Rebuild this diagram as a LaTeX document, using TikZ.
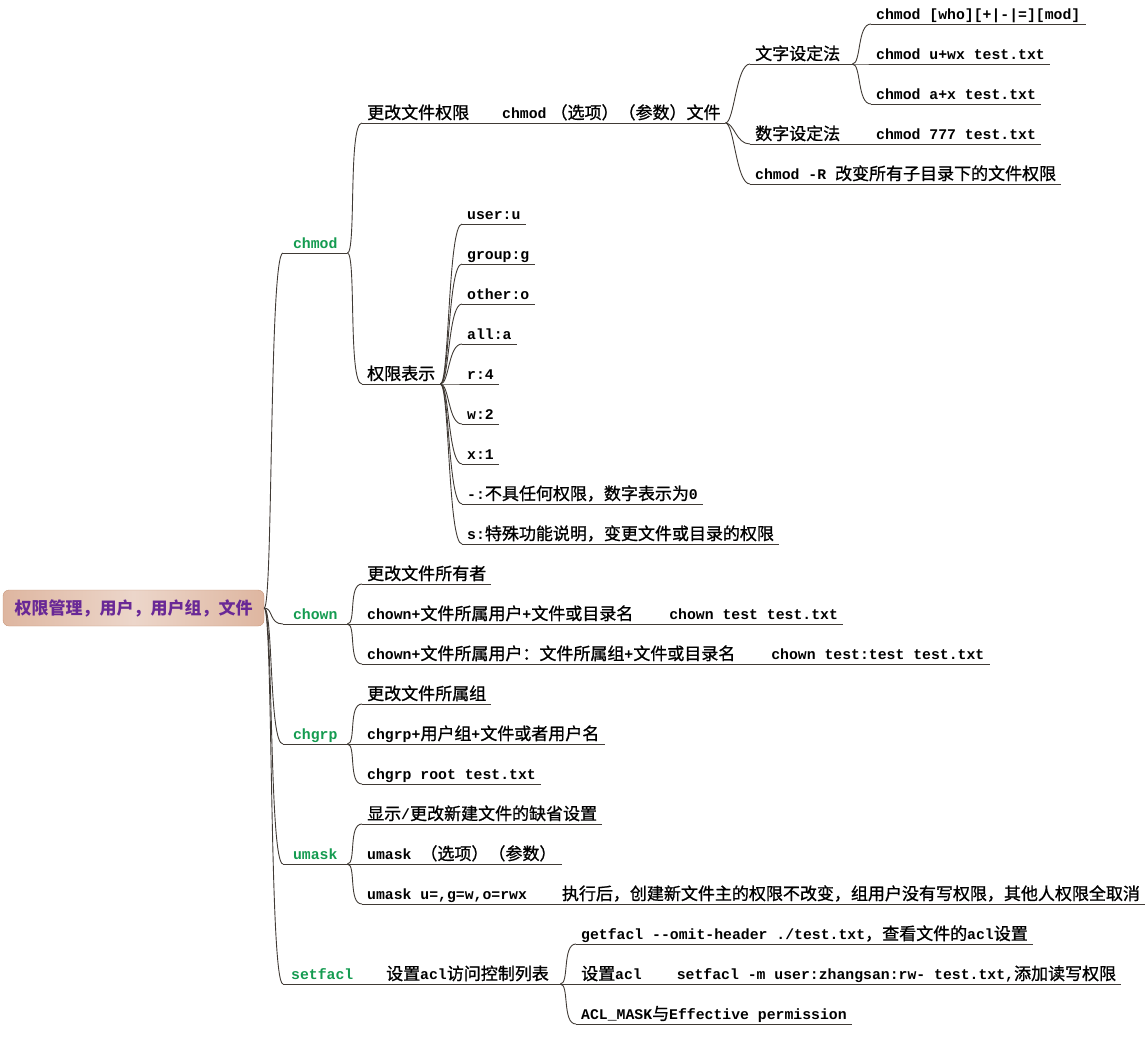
\documentclass[tikz,border=0pt]{standalone}
\usepackage{fontspec}
\setmainfont{Liberation Mono}[UprightFont=* Bold, BoldFont=* Bold, Scale=0.87, Ligatures=TeXOff]
\newfontfamily\cjkfam{Noto Sans CJK SC}[UprightFeatures={FakeBold=1}]
\usetikzlibrary{calc, positioning}

% --- CJK / Latin font switching ---
\newXeTeXintercharclass\cjkclass
\newcount\cjkcode
\def\setcjkrange#1#2{\cjkcode=#1
  \loop\XeTeXcharclass\cjkcode=\cjkclass
  \ifnum\cjkcode<#2 \advance\cjkcode by 1 \repeat}
\setcjkrange{"3000}{"303F}
\setcjkrange{"4E00}{"9FFF}
\setcjkrange{"FF00}{"FFEF}
\XeTeXinterchartoks 0 \cjkclass = {\cjkfam}
\XeTeXinterchartoks 4095 \cjkclass = {\cjkfam}
\XeTeXinterchartoks \cjkclass 0 = {\rmfamily}
\XeTeXinterchartoks \cjkclass 4095 = {\rmfamily}
\XeTeXinterchartokenstate=1

\definecolor{linec}{RGB}{64,58,53}
\definecolor{tagink}{RGB}{20,155,80}
\definecolor{rootink}{RGB}{105,40,150}
\definecolor{rootline}{RGB}{200,150,122}
\definecolor{rootside}{RGB}{222,182,160}
\definecolor{rootmid}{RGB}{236,214,202}

\def\mapfont{\fontsize{17pt}{20pt}\selectfont}

\tikzset{
  rootbox/.style={draw=rootline, rounded corners=6pt, left color=rootside, right color=rootside,
    middle color=rootmid, minimum width=261pt, minimum height=36pt, text=rootink, font=\mapfont\bfseries},
  cmd/.style={anchor=south west, inner xsep=5pt, inner ysep=1pt, text height=13pt, text depth=3pt, align=left},
  cmdtag/.style={cmd, text=tagink, font=\mapfont\bfseries, minimum width=64pt},
  uline/.style={draw=linec, line width=0.9pt},
  branch/.style={uline, to path={.. controls ([xshift=9pt]\tikztostart) and ([xshift=-14pt]\tikztotarget) .. (\tikztotarget) \tikztonodes}},
}

\begin{document}
\begin{tikzpicture}[x=1pt, y=-1pt, font=\mapfont]

\useasboundingbox (0,0) rectangle (1146,1037);

% --- 1. ROOT ---
\node[rootbox] (root) at (133.5,608) {权限管理，用户，用户组，文件};

% --- 2. COMMANDS ---
\node[cmdtag] (chmod) at (283,253) {chmod};
\node[cmdtag] (chown) at (283,624) {chown};
\node[cmdtag] (chgrp) at (283,744) {chgrp};
\node[cmdtag] (umask) at (283,864) {umask};
\node[cmdtag, minimum width=78pt] (setfacl) at (283,984) {setfacl};

\foreach \c in {chmod, chown, chgrp, umask, setfacl}
    \draw[branch] (root.east) to (\c.south west);

% --- 3. CHMOD ---
\node[cmd, text width=353pt] (chmodset) at (362,123) {\mbox{更改文件权限\hspace{33pt}chmod\hspace{4pt}（选项）（参数）文件}};
\node[cmd, text width=68pt] (chmodbits) at (362,384) {权限表示};

% letters / numbers
\node[cmd, text width=92pt] (bytext) at (750,64) {文字设定法};
\node[cmd, text width=92pt] (bynum) at (750,144) {数字设定法};
\node[cmd] (recur) at (750,184) {chmod -R 改变所有子目录下的文件权限};

\node[cmd] (syntax) at (871,24) {chmod [who][+|-|=][mod]};
\node[cmd] (uwx) at (871,64) {chmod u+wx test.txt};
\node[cmd] (ax) at (871,104) {chmod a+x test.txt};
\node[cmd] (n777) at (871,144) {chmod 777 test.txt};

\foreach \c in {chmodset, chmodbits}
    \draw[branch] (chmod.south east) to (\c.south west);
\foreach \c in {bytext, bynum, recur}
    \draw[branch] (chmodset.south east) to (\c.south west);
\foreach \c in {syntax, uwx, ax}
    \draw[branch] (bytext.south east) to (\c.south west);
\draw[uline] (bynum.south east) -- (n777.south west);

% permission bits
\foreach \name/\txt [count=\i] in {pu/user:u, pg/group:g, po/other:o, pa/all:a, pr/r:4, pw/w:2, px/x:1,
    pz/{-:不具任何权限，数字表示为0}, ps/{s:特殊功能说明，变更文件或目录的权限}} {
    \node[cmd] (\name) at (462,184+40*\i) {\txt};
    \draw[branch] (chmodbits.south east) to (\name.south west);
    \draw[uline] (\name.south west) -- (\name.south east);
}

% --- 4. CHOWN ---
\node[cmd] (owner) at (362,584) {更改文件所有者};
\node[cmd] (ownuser) at (362,624) {chown+文件所属用户+文件或目录名\hspace{36pt}chown test test.txt};
\node[cmd] (owngroup) at (362,664) {chown+文件所属用户：文件所属组+文件或目录名\hspace{36pt}chown test:test test.txt};

\foreach \c in {owner, ownuser, owngroup}
    \draw[branch] (chown.south east) to (\c.south west);

% --- 5. CHGRP ---
\node[cmd] (grpdesc) at (362,704) {更改文件所属组};
\node[cmd] (grpsyntax) at (362,744) {chgrp+用户组+文件或者用户名};
\node[cmd] (grpeg) at (362,784) {chgrp root test.txt};

\foreach \c in {grpdesc, grpsyntax, grpeg}
    \draw[branch] (chgrp.south east) to (\c.south west);

% --- 6. UMASK ---
\node[cmd] (maskdesc) at (362,824) {显示/更改新建文件的缺省设置};
\node[cmd] (masksyntax) at (362,864) {umask （选项）（参数）};
\node[cmd] (maskeg) at (362,904) {umask u=,g=w,o=rwx\hspace{35pt}执行后，创建新文件主的权限不改变，组用户没有写权限，其他人权限全取消};

\foreach \c in {maskdesc, masksyntax, maskeg}
    \draw[branch] (umask.south east) to (\c.south west);

% --- 7. SETFACL ---
\node[cmd, text width=169pt] (aclset) at (381,984) {设置acl访问控制列表};
\node[cmd] (aclget) at (576,944) {getfacl --omit-header ./test.txt，查看文件的acl设置};
\node[cmd] (aclrw) at (576,984) {设置acl\hspace{35pt}setfacl -m user:zhangsan:rw- test.txt,添加读写权限};
\node[cmd] (aclmask) at (576,1024) {ACL\_MASK与Effective permission};

\draw[uline] (setfacl.south east) -- (aclset.south west);
\foreach \c in {aclget, aclrw, aclmask}
    \draw[branch] (aclset.south east) to (\c.south west);

% --- 8. UNDERLINES ---
\foreach \n in {chmod, chown, chgrp, umask, setfacl, chmodset, chmodbits, bytext, bynum, recur,
    syntax, uwx, ax, n777, owner, ownuser, owngroup, grpdesc, grpsyntax, grpeg,
    maskdesc, masksyntax, maskeg, aclset, aclget, aclrw, aclmask}
    \draw[uline] (\n.south west) -- (\n.south east);

\end{tikzpicture}
\end{document}
